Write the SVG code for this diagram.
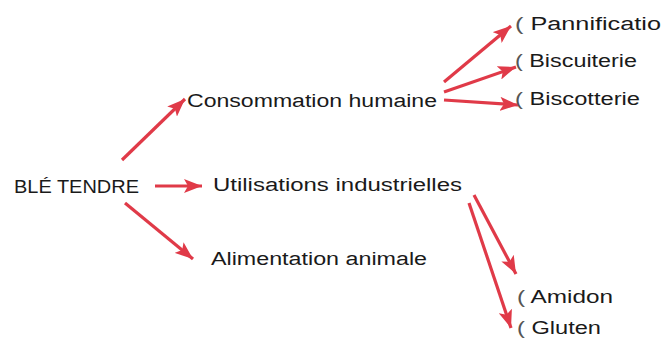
<svg xmlns="http://www.w3.org/2000/svg" width="662" height="339" viewBox="0 0 662 339">
<style>
  text { font-family: "Liberation Sans", Arial, sans-serif; font-size: 18px; fill: #1a1a1a; }
  .par { fill: #555; }
  .arr { stroke: #e03a48; stroke-width: 3.2; fill: none; marker-end: url(#ah); }
</style>
<defs>
  <marker id="ah" markerUnits="userSpaceOnUse" markerWidth="20" markerHeight="14" refX="18" refY="7" orient="auto">
    <path d="M0,0 L18,7 L0,14 L4,7 Z" fill="#e03a48"/>
  </marker>
</defs>
<rect width="662" height="339" fill="#ffffff"/>
<g id="connectors">
  <line class="arr" x1="122" y1="160" x2="185" y2="99"/>
  <line class="arr" x1="155" y1="186" x2="202" y2="186"/>
  <line class="arr" x1="125" y1="203" x2="193" y2="259"/>
  <line class="arr" x1="444" y1="82" x2="511" y2="26"/>
  <line class="arr" x1="444" y1="92" x2="516" y2="67"/>
  <line class="arr" x1="444" y1="100" x2="518" y2="105"/>
  <line class="arr" x1="474" y1="195" x2="516" y2="274"/>
  <line class="arr" x1="469" y1="203" x2="511" y2="328"/>
</g>
<g id="ble-tendre"><text x="14" y="193" textLength="125" lengthAdjust="spacingAndGlyphs">BLÉ TENDRE</text></g>
<g id="consommation"><text x="187" y="107" textLength="250" lengthAdjust="spacingAndGlyphs">Consommation humaine</text></g>
<g id="utilisations"><text x="213" y="191" textLength="249" lengthAdjust="spacingAndGlyphs">Utilisations  industrielles</text></g>
<g id="alimentation"><text x="211" y="265" textLength="216" lengthAdjust="spacingAndGlyphs">Alimentation animale</text></g>
<g id="pannification"><text x="515" y="30" font-size="18" textLength="160" lengthAdjust="spacingAndGlyphs"><tspan class="par">(</tspan> Pannification</text></g>
<g id="biscuiterie"><text x="515" y="67" textLength="122" lengthAdjust="spacingAndGlyphs"><tspan class="par">(</tspan> Biscuiterie</text></g>
<g id="biscotterie"><text x="515" y="105" textLength="125" lengthAdjust="spacingAndGlyphs"><tspan class="par">(</tspan> Biscotterie</text></g>
<g id="amidon"><text x="517" y="303" textLength="96" lengthAdjust="spacingAndGlyphs"><tspan class="par">(</tspan> Amidon</text></g>
<g id="gluten"><text x="517" y="334" textLength="84" lengthAdjust="spacingAndGlyphs"><tspan class="par">(</tspan> Gluten</text></g>
</svg>
